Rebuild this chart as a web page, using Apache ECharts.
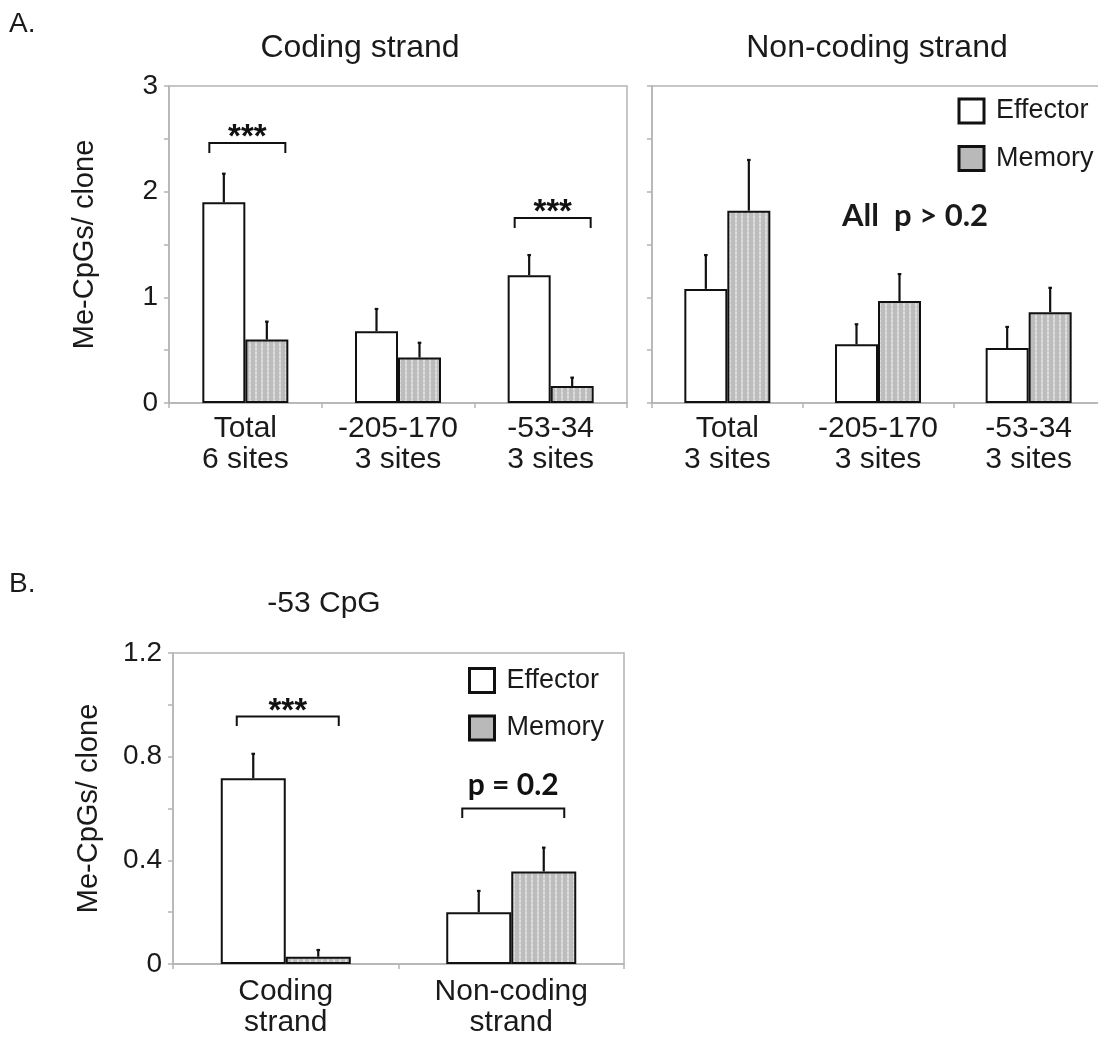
<!DOCTYPE html>
<html><head><meta charset="utf-8">
<script src="https://cdn.jsdelivr.net/npm/echarts@6/dist/echarts.min.js"></script>
<style>html,body{margin:0;padding:0;background:#fff}#c{width:1098px;height:1038px}</style>
</head><body><div id="c"></div>
<script>
// ---- data ----
const codingCategories = ['Total\n6 sites', '-205-170\n3 sites', '-53-34\n3 sites'];
const nonCodingCategories = ['Total\n3 sites', '-205-170\n3 sites', '-53-34\n3 sites'];
const codingEffector = [1.90, 0.68, 1.21];
const codingEffectorErr = [0.27, 0.21, 0.19];
const codingMemory = [0.60, 0.43, 0.16];
const codingMemoryErr = [0.17, 0.14, 0.08];
const nonCodingEffector = [1.08, 0.555, 0.52];
const nonCodingEffectorErr = [0.32, 0.19, 0.20];
const nonCodingMemory = [1.82, 0.965, 0.86];
const nonCodingMemoryErr = [0.48, 0.255, 0.23];
const cpgCategories = ['Coding\nstrand', 'Non-coding\nstrand'];
const cpgEffector = [0.717, 0.20];
const cpgEffectorErr = [0.094, 0.082];
const cpgMemory = [0.028, 0.357];
const cpgMemoryErr = [0.026, 0.092];
const codingBrackets = [[0, 2.46, '***'], [2, 1.75, '***']];
const cpgBrackets = [[0, 0.955, '***'], [1, 0.60, 'p = 0.2']];
const yTicksA = [0, 1, 2, 3];
const yTicksB = [0, 0.4, 0.8, 1.2];
const seriesNames = ['Effector', 'Memory'];

// ---- styles ----
const TXT = '#1a1a1a';
const AXC = '#b4b4b4';
const SANS = '"Liberation Sans", Arial, sans-serif';

const pat = document.createElement('canvas');
pat.width = 6; pat.height = 4;
(function(){
  const g = pat.getContext('2d');
  g.fillStyle = '#bcbcbc'; g.fillRect(0,0,6,4);
  g.fillStyle = '#dedede'; g.fillRect(3,0,2,2);
  g.fillStyle = '#d2d2d2'; g.fillRect(3,2,2,2);
})();
const memoryFill = { image: pat, repeat: 'repeat' };

const chart = echarts.init(document.getElementById('c'), null, { renderer: 'canvas' });

function xAxis(gi, cats, margin) {
  return {
    type: 'category', gridIndex: gi, data: cats,
    axisLine: { show: true, lineStyle: { color: AXC, width: 1.5 } },
    axisTick: { show: true, length: 5, lineStyle: { color: AXC, width: 1.5 } },
    axisLabel: { color: TXT, fontSize: 30, lineHeight: 31, fontFamily: SANS, margin: margin, interval: 0 },
    splitLine: { show: false }
  };
}
function yAxis(gi, ticks, showLabels, withName) {
  return {
    type: 'value', gridIndex: gi,
    min: ticks[0], max: ticks[ticks.length - 1], interval: ticks[1] - ticks[0],
    name: withName ? 'Me-CpGs/ clone' : '',
    nameLocation: 'middle', nameRotate: 90, nameGap: 70,
    nameTextStyle: { color: TXT, fontSize: 29, fontFamily: SANS },
    axisLine: { show: true, lineStyle: { color: AXC, width: 1.5 } },
    axisTick: { show: true, length: 5, lineStyle: { color: AXC, width: 1.5 } },
    minorTick: { show: true, splitNumber: 2, length: 5, lineStyle: { color: AXC, width: 1.5 } },
    axisLabel: { show: showLabels, color: TXT, fontSize: 28, fontFamily: SANS, margin: 11,
      formatter: v => String(Math.round(v * 10) / 10) },
    splitLine: { show: false }, minorSplitLine: { show: false }
  };
}
function bars(gi, eff, mem, bw) {
  return [
    { type: 'bar', name: seriesNames[0], xAxisIndex: gi, yAxisIndex: gi, data: eff,
      barWidth: bw, barGap: '0%', silent: true,
      itemStyle: { color: '#ffffff', borderColor: '#111', borderWidth: 2 } },
    { type: 'bar', name: seriesNames[1], xAxisIndex: gi, yAxisIndex: gi, data: mem,
      barWidth: bw, barGap: '0%', silent: true,
      itemStyle: { color: memoryFill, borderColor: '#111', borderWidth: 2 } }
  ];
}
function errors(gi, vals, errs, side, bw) {
  return {
    type: 'custom', xAxisIndex: gi, yAxisIndex: gi, z: 5, silent: true,
    data: vals.map((v, i) => [i, v, v + errs[i]]),
    renderItem(params, api) {
      const b = api.coord([api.value(0), api.value(1)]);
      const t = api.coord([api.value(0), api.value(2)]);
      const x = b[0] + side * bw / 2;
      return { type: 'group', children: [
        { type: 'line', shape: { x1: x, y1: b[1], x2: x, y2: t[1] }, style: { stroke: '#111', lineWidth: 2.2 } },
        { type: 'line', shape: { x1: x - 1.8, y1: t[1], x2: x + 1.8, y2: t[1] }, style: { stroke: '#111', lineWidth: 2.2 } }
      ] };
    }
  };
}
function brackets(gi, data, half, leg) {
  return {
    type: 'custom', xAxisIndex: gi, yAxisIndex: gi, z: 6, silent: true,
    data: data.map(d => [d[0], d[1]]),
    renderItem(params, api) {
      const p = api.coord([api.value(0), api.value(1)]);
      const cx = p[0] + 2, y = p[1];
      const txt = data[params.dataIndex][2];
      const star = txt.indexOf('*') >= 0;
      return { type: 'group', children: [
        { type: 'polyline', shape: { points: [[cx - half, y + leg], [cx - half, y], [cx + half, y], [cx + half, y + leg]] },
          style: { stroke: '#111', lineWidth: 2, fill: null } },
        { type: 'text', x: cx, y: y - (star ? 5 : 23),
          style: { text: txt, align: 'center', verticalAlign: 'middle', fill: '#111',
            font: star ? 'bold 33px ' + SANS : 'bold 30px Lato, "Open Sans", sans-serif' } }
      ] };
    }
  };
}
function legend(left, top) {
  return {
    left: left, top: top, orient: 'vertical', padding: 0, itemGap: 20.5,
    itemWidth: 25, itemHeight: 24, icon: 'rect', selectedMode: false,
    textStyle: { color: TXT, fontSize: 27, fontFamily: SANS, padding: [0, 0, 0, 7] },
    data: [
      { name: seriesNames[0], itemStyle: { color: '#fff', borderColor: '#111', borderWidth: 3 } },
      { name: seriesNames[1], itemStyle: { color: '#b9b9b9', borderColor: '#111', borderWidth: 3 } }
    ]
  };
}
function label(text, x, y, size, align, weight, family) {
  return { type: 'text', x: x, y: y, silent: true,
    style: { text: text, align: align, verticalAlign: 'middle', fill: TXT,
      font: (weight || 'normal') + ' ' + size + 'px ' + (family || SANS) } };
}

const option = {
  animation: false,
  backgroundColor: '#ffffff',
  grid: [
    { left: 169, top: 86, width: 458, height: 317, show: true, borderColor: AXC, borderWidth: 1.5, outerBoundsMode: 'none', containLabel: false },
    { left: 652, top: 86, width: 452, height: 317, show: true, borderColor: AXC, borderWidth: 1.5, outerBoundsMode: 'none', containLabel: false },
    { left: 173, top: 653, width: 451, height: 311, show: true, borderColor: AXC, borderWidth: 1.5, outerBoundsMode: 'none', containLabel: false }
  ],
  xAxis: [xAxis(0, codingCategories, 10), xAxis(1, nonCodingCategories, 10), xAxis(2, cpgCategories, 12)],
  yAxis: [yAxis(0, yTicksA, true, true), yAxis(1, yTicksA, false, false), yAxis(2, yTicksB, true, true)],
  legend: [legend(957.5, 97.5), legend(468, 667)],
  series: [
    ...bars(0, codingEffector, codingMemory, 43),
    errors(0, codingEffector, codingEffectorErr, -1, 43),
    errors(0, codingMemory, codingMemoryErr, 1, 43),
    brackets(0, codingBrackets, 38, 10),
    ...bars(1, nonCodingEffector, nonCodingMemory, 43),
    errors(1, nonCodingEffector, nonCodingEffectorErr, -1, 43),
    errors(1, nonCodingMemory, nonCodingMemoryErr, 1, 43),
    ...bars(2, cpgEffector, cpgMemory, 65),
    errors(2, cpgEffector, cpgEffectorErr, -1, 65),
    errors(2, cpgMemory, cpgMemoryErr, 1, 65),
    brackets(2, cpgBrackets, 51, 9.5)
  ],
  graphic: [
    label('A.', 9, 24, 28, 'left'),
    label('B.', 9, 584, 28, 'left'),
    label('Coding strand', 360, 48, 32, 'center'),
    label('Non-coding strand', 877, 48, 32, 'center'),
    label('-53 CpG', 324, 604, 30, 'center'),
    label('All  p > 0.2', 915, 216, 31, 'center', 'bold', 'Lato, "Open Sans", sans-serif')
  ]
};
chart.setOption(option);
</script>
</body></html>
